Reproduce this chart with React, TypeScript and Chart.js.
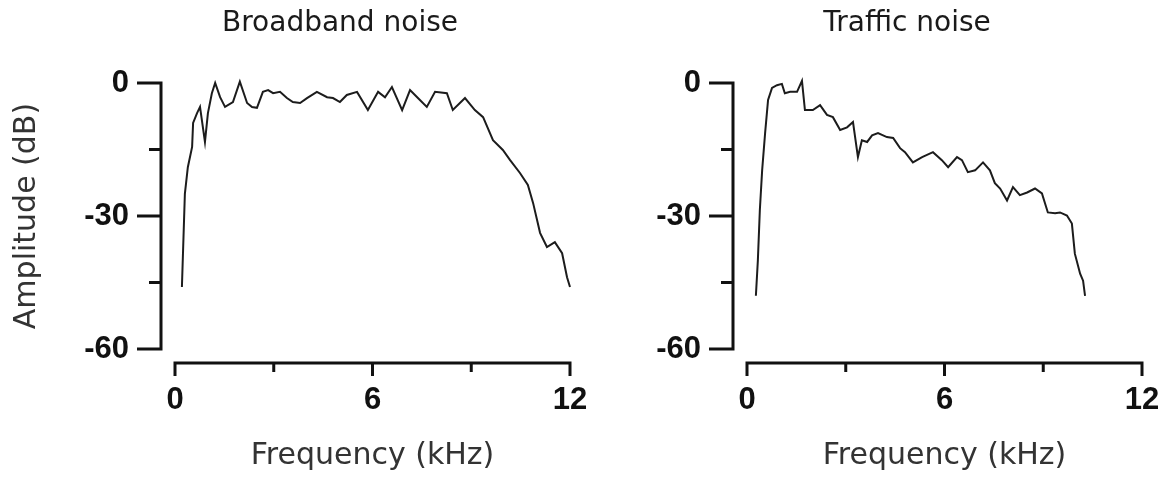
import { useEffect, useRef } from "react";
import { Chart, registerables } from "chart.js";

Chart.register(...registerables);

// Axis ticks (kHz and dB) and which of them carry a printed label
const freqTicks = [0, 3, 6, 9, 12];
const freqLabeled = [0, 6, 12];
const ampTicks = [-60, -45, -30, -15, 0];
const ampLabeled = [-60, -30, 0];

// Broadband noise spectrum
const broadbandFreq = [
  0.21, 0.3, 0.39, 0.52, 0.55, 0.67, 0.76, 0.91, 1.0, 1.12, 1.22, 1.37, 1.52, 1.76, 1.97,
  2.19, 2.34, 2.49, 2.67, 2.83, 2.98, 3.19, 3.4, 3.58, 3.8, 4.01, 4.31, 4.62, 4.8, 5.01,
  5.22, 5.53, 5.86, 6.17, 6.38, 6.59, 6.9, 7.14, 7.38, 7.65, 7.9, 8.26, 8.44, 8.81, 9.11,
  9.36, 9.66, 9.96, 10.18, 10.48, 10.72, 10.88, 11.09, 11.3, 11.54, 11.76, 11.91, 12.0,
];
const broadbandAmp = [
  -46, -25, -19, -14.4, -9, -6.8, -5.4, -13.3, -6.8, -2.3, 0, -3.2, -5.4, -4.3, 0.3,
  -4.5, -5.4, -5.6, -2, -1.6, -2.3, -2, -3.4, -4.3, -4.5, -3.4, -2, -3.2, -3.4, -4.3,
  -2.7, -2, -6.1, -2, -3.2, -0.9, -6.1, -1.6, -3.4, -5.4, -2, -2.3, -6.1, -3.4, -6.1,
  -7.7, -12.9, -15.1, -17.4, -20.3, -23, -27.1, -33.8, -37, -35.9, -38.4, -43.8, -46,
];

// Traffic noise spectrum
const trafficFreq = [
  0.27, 0.33, 0.39, 0.46, 0.55, 0.64, 0.76, 0.91, 1.06, 1.15, 1.31, 1.52, 1.67, 1.76, 2.0,
  2.22, 2.43, 2.61, 2.83, 3.04, 3.22, 3.37, 3.49, 3.65, 3.8, 3.98, 4.25, 4.44, 4.65, 4.8,
  5.04, 5.32, 5.65, 5.92, 6.11, 6.38, 6.53, 6.71, 6.93, 7.17, 7.38, 7.53, 7.69, 7.9, 8.08,
  8.29, 8.51, 8.75, 8.96, 9.14, 9.36, 9.51, 9.72, 9.87, 9.96, 10.12, 10.21, 10.27,
];
const trafficAmp = [
  -48, -40, -28.7, -19.7, -11.3, -3.8, -1.1, -0.5, -0.2, -2.3, -2, -2, 0.5, -6.1, -6.1,
  -5, -7.2, -7.7, -10.6, -10, -8.8, -16.7, -12.9, -13.3, -11.8, -11.3, -12.2, -12.4, -14.7, -15.6,
  -17.9, -16.7, -15.6, -17.4, -19, -16.7, -17.4, -20.1, -19.7, -17.9, -19.7, -22.6, -23.8, -26.5, -23.5,
  -25.3, -24.7, -23.8, -24.9, -29.2, -29.4, -29.2, -29.9, -31.7, -38.5, -43, -44.6, -48,
];

const INK = "#111";
const tickFont = { family: "Liberation Sans", size: 31, weight: "bold" as const, lineHeight: 1.2 };
const textFont = { family: "DejaVu Sans", size: 30, weight: "normal" as const, lineHeight: 1.2 };

// Prism-style detached axes: lines and tick marks sit a short gap away from the plot area
const detachedAxes = {
  id: "detachedAxes",
  afterDraw(chart: any) {
    const { ctx, chartArea, scales } = chart;
    const xs = scales.x;
    const ys = scales.y;
    const gap = 14;
    const half = 1.5;
    ctx.save();
    ctx.strokeStyle = INK;
    ctx.lineWidth = 3;
    ctx.lineCap = "butt";
    ctx.beginPath();
    const ax = chartArea.left - gap;
    ctx.moveTo(ax, ys.getPixelForValue(ys.max) - half);
    ctx.lineTo(ax, ys.getPixelForValue(ys.min) + half);
    ys.ticks.forEach((t: any) => {
      const py = ys.getPixelForValue(t.value);
      const len = ampLabeled.includes(t.value) ? 24 : 12;
      ctx.moveTo(ax - len, py);
      ctx.lineTo(ax + half, py);
    });
    const ay = chartArea.bottom + gap;
    ctx.moveTo(xs.getPixelForValue(xs.min) - half, ay);
    ctx.lineTo(xs.getPixelForValue(xs.max) + half, ay);
    xs.ticks.forEach((t: any) => {
      const px = xs.getPixelForValue(t.value);
      const len = freqLabeled.includes(t.value) ? 13 : 9;
      ctx.moveTo(px, ay - half);
      ctx.lineTo(px, ay + len);
    });
    ctx.stroke();
    ctx.restore();
  },
};

type PanelProps = {
  title: string;
  freq: number[];
  amp: number[];
  showYTitle: boolean;
  left: number;
  width: number;
  yWidth: number;
  rightWidth: number;
};

function NoisePanel(p: PanelProps) {
  const ref = useRef<HTMLCanvasElement | null>(null);

  useEffect(() => {
    if (!ref.current) return;
    const chart = new Chart(ref.current, {
      type: "line",
      data: {
        datasets: [
          {
            data: p.freq.map((f, i) => ({ x: f, y: p.amp[i] })),
            xAxisID: "x",
            yAxisID: "y",
            borderColor: "#1c1c1c",
            borderWidth: 2,
            pointRadius: 0,
            tension: 0,
            fill: false,
            clip: false as any,
          },
        ],
      },
      options: {
        animation: false,
        responsive: false,
        events: [],
        layout: { padding: 0 },
        plugins: {
          legend: { display: false },
          tooltip: { enabled: false },
          title: {
            display: true,
            text: p.title,
            color: "#1a1a1a",
            font: { family: "DejaVu Sans", size: 28, weight: "normal", lineHeight: 1.2 },
            padding: { top: 6.7, bottom: 42.7 },
          },
        },
        scales: {
          x: {
            type: "linear",
            min: 0,
            max: 12,
            grid: { display: false, drawTicks: false },
            border: { display: false },
            afterBuildTicks: (s: any) => {
              s.ticks = freqTicks.map((v) => ({ value: v }));
            },
            afterFit: (s: any) => {
              s.height = 132;
              s.paddingLeft = 0;
              s.paddingRight = 0;
            },
            ticks: {
              autoSkip: false,
              maxRotation: 0,
              minRotation: 0,
              padding: 32.4,
              color: INK,
              font: tickFont,
              callback: (v: any) => (freqLabeled.includes(Number(v)) ? String(v) : ""),
            },
            title: {
              display: true,
              text: "Frequency (kHz)",
              color: "#333",
              font: textFont,
              padding: { top: 0, bottom: 7 },
            },
          },
          y: {
            type: "linear",
            position: "left",
            min: -60,
            max: 0,
            grid: { display: false, drawTicks: false },
            border: { display: false },
            afterBuildTicks: (s: any) => {
              s.ticks = ampTicks.map((v) => ({ value: v }));
            },
            afterFit: (s: any) => {
              s.width = p.yWidth;
              s.paddingTop = 0;
              s.paddingBottom = 0;
            },
            ticks: {
              autoSkip: false,
              padding: 46,
              color: INK,
              font: tickFont,
              callback: (v: any) => (ampLabeled.includes(Number(v)) ? String(v) : ""),
            },
            title: {
              display: p.showYTitle,
              text: "Amplitude (dB)",
              color: "#333",
              font: textFont,
              padding: { top: 9, bottom: 0 },
            },
          },
          // empty right-hand margin so the panel title sits where it belongs
          margin: {
            type: "linear",
            axis: "y",
            position: "right",
            display: true,
            grid: { display: false, drawTicks: false },
            border: { display: false },
            ticks: { display: false },
            afterFit: (s: any) => {
              s.width = p.rightWidth;
              s.paddingTop = 0;
              s.paddingBottom = 0;
            },
          },
        } as any,
      },
      plugins: [detachedAxes],
    });
    return () => chart.destroy();
  }, []);

  return (
    <canvas
      ref={ref}
      width={p.width}
      height={481}
      style={{ position: "absolute", left: p.left, top: 0, width: p.width, height: 481 }}
    />
  );
}

export default function App() {
  return (
    <div style={{ position: "absolute", left: 0, top: 0, width: 1165, height: 481, background: "#fff" }}>
      <NoisePanel
        title="Broadband noise"
        freq={broadbandFreq}
        amp={broadbandAmp}
        showYTitle={true}
        left={0}
        width={680}
        yWidth={175}
        rightWidth={110}
      />
      <NoisePanel
        title="Traffic noise"
        freq={trafficFreq}
        amp={trafficAmp}
        showYTitle={false}
        left={649}
        width={516}
        yWidth={98}
        rightWidth={23}
      />
    </div>
  );
}
